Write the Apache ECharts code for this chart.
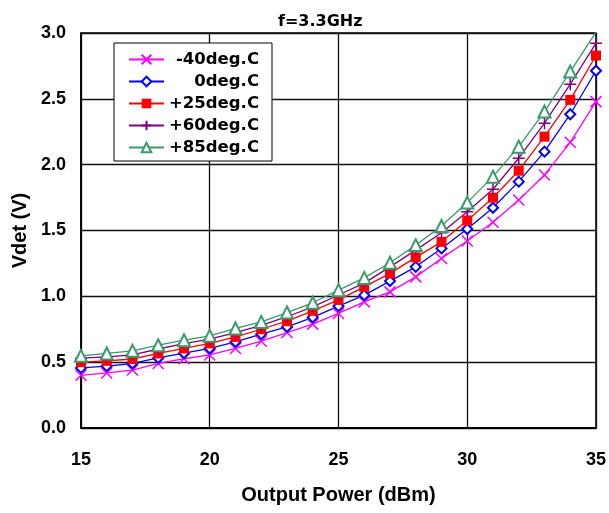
<!DOCTYPE html>
<html><head><meta charset="utf-8">
<script src="https://cdn.jsdelivr.net/npm/echarts@6/dist/echarts.min.js"></script>
<style>html,body{margin:0;padding:0;background:#fff}#c{width:609px;height:513px}</style>
</head><body><div id="c"></div>
<script>
var powers = [15,16,17,18,19,20,21,22,23,24,25,26,27,28,29,30,31,32,33,34,35];
var seriesNames = ['-40deg.C','0deg.C','+25deg.C','+60deg.C','+85deg.C'];
var vM40 = [0.40,0.418,0.44,0.49,0.526,0.555,0.604,0.659,0.725,0.789,0.87,0.958,1.034,1.148,1.288,1.42,1.562,1.732,1.922,2.17,2.479];
var v0   = [0.456,0.47,0.49,0.532,0.568,0.604,0.654,0.713,0.768,0.84,0.925,1.009,1.116,1.224,1.364,1.511,1.673,1.871,2.099,2.383,2.713];
var v25  = [0.50,0.51,0.524,0.566,0.604,0.642,0.692,0.75,0.811,0.89,0.973,1.072,1.174,1.296,1.414,1.576,1.749,1.954,2.213,2.492,2.829];
var v60  = [0.53,0.54,0.556,0.60,0.64,0.675,0.725,0.78,0.845,0.92,1.01,1.10,1.224,1.351,1.483,1.643,1.813,2.049,2.315,2.611,2.923];
var v85  = [0.548,0.566,0.586,0.629,0.667,0.70,0.756,0.806,0.877,0.951,1.047,1.14,1.255,1.389,1.534,1.712,1.909,2.137,2.403,2.707,3.007];
var xTicks = [15,20,25,30,35];
var yTicks = [0.0,0.5,1.0,1.5,2.0,2.5,3.0];

var FONT = '"Liberation Sans", Arial, sans-serif';
var FONT2 = '"DejaVu Sans", sans-serif';
var values = [vM40, v0, v25, v60, v85];
var colors = ['#FF00FF','#0000FF','#FF0000','#800080','#3A9A6A'];
var symbols = ['path://M0,0L10,10M10,0L0,10','emptyDiamond','rect','path://M5,0L5,10M0,5L10,5','emptyTriangle'];
var sizes = [11,10,10,12,12];
function pairs(v){ return powers.map(function(p,i){ return [p, v[i]]; }); }

var series = seriesNames.map(function(n, k){
  var stroke = (k===0||k===3);
  return {
    name: n, type: 'line', data: pairs(values[k]),
    symbol: symbols[k], symbolSize: sizes[k], showAllSymbol: true,
    lineStyle: {color: colors[k], width: 1.3},
    itemStyle: stroke ? {color: colors[k], borderColor: colors[k], borderWidth: 1.5}
                      : (k===2 ? {color: colors[k]} : {color: colors[k], borderWidth: 1.3}),
    emphasis: {disabled: true}, animation: false
  };
});

var chart = echarts.init(document.getElementById('c'), null, {renderer: 'canvas'});
chart.setOption({
  animation: false,
  backgroundColor: '#fff',
  title: {text: 'f=3.3GHz', left: 273, top: 9,
    textStyle: {fontFamily: FONT2, fontSize: 16, fontWeight: 'bold', color: '#000'}},
  grid: {left: 81, right: 11, top: 33, bottom: 85, show: true, borderColor: '#000', borderWidth: 1.5, containLabel: false},
  legend: {
    orient: 'vertical', left: 114, top: 43, width: 157,
    backgroundColor: '#fff', borderColor: '#000', borderWidth: 1,
    padding: [8, 13, 5, 14],
    itemWidth: 35, itemHeight: 12, itemGap: 5,
    data: seriesNames,
    formatter: function(n){ return '{a|' + n + '}'; },
    textStyle: {fontFamily: FONT2, fontSize: 16.5, fontWeight: 'bold', color: '#000',
      rich: {a: {fontFamily: FONT2, fontSize: 16.5, fontWeight: 'bold', color: '#000', width: 90, align: 'right', lineHeight: 16}}}
  },
  xAxis: {
    type: 'value', min: xTicks[0], max: xTicks[xTicks.length-1], interval: 5,
    name: 'Output Power (dBm)', nameLocation: 'middle', nameGap: 57,
    nameTextStyle: {fontFamily: FONT, fontSize: 20, fontWeight: 'bold', color: '#000'},
    axisLine: {show: true, lineStyle: {color: '#000', width: 2}},
    axisTick: {show: false},
    axisLabel: {fontFamily: FONT, fontSize: 18, fontWeight: 'bold', color: '#000', margin: 23},
    splitLine: {show: true, lineStyle: {color: '#111', width: 1.3}}
  },
  yAxis: {
    type: 'value', min: yTicks[0], max: yTicks[yTicks.length-1], interval: 0.5,
    name: 'Vdet (V)', nameLocation: 'middle', nameGap: 51, nameRotate: 90,
    nameTextStyle: {fontFamily: FONT, fontSize: 20, fontWeight: 'bold', color: '#000'},
    axisLine: {show: true, lineStyle: {color: '#000', width: 1.5}},
    axisTick: {show: false},
    axisLabel: {fontFamily: FONT, fontSize: 18, fontWeight: 'bold', color: '#000', margin: 15,
      formatter: function(v){ return v.toFixed(1); }},
    splitLine: {show: true, lineStyle: {color: '#111', width: 1.3}}
  },
  series: series
});
</script></body></html>
